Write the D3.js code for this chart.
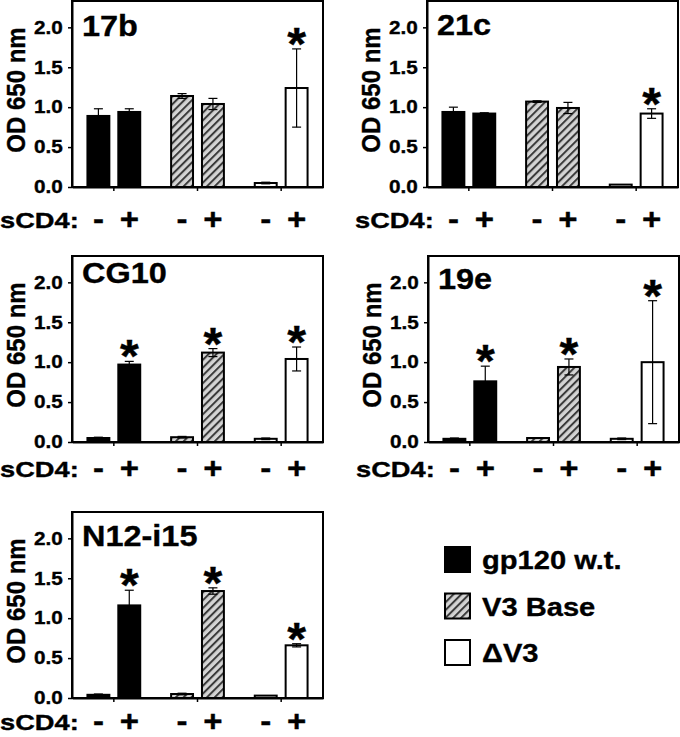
<!DOCTYPE html>
<html><head><meta charset="utf-8">
<script src="https://cdn.jsdelivr.net/npm/d3@7"></script>
<style>
html,body{margin:0;padding:0;background:#fff;}
text{font-family:"Liberation Sans",Arial,sans-serif;font-weight:bold;fill:#000;stroke:#000;stroke-width:0.35px;}
</style></head>
<body><svg id="chart" width="680" height="737"></svg>
<script>
// ---------- data ----------
const constructs = ["gp120 w.t.", "V3 Base", "\u0394V3"];
const sCD4 = ["-", "+"];
const antibodies = ["17b", "21c", "CG10", "19e", "N12-i15"];
// order per antibody: wt-, wt+, base-, base+, dV3-, dV3+
const means17b  = [0.89, 0.94, 1.14, 1.04, 0.05, 1.24];
const errs17b   = [0.09, 0.04, 0.03, 0.07, 0.01, 0.49];
const stars17b  = [0, 0, 0, 0, 0, 1];
const means21c  = [0.94, 0.92, 1.07, 0.99, 0.03, 0.92];
const errs21c   = [0.06, 0.01, 0.01, 0.07, 0.005, 0.06];
const stars21c  = [0, 0, 0, 0, 0, 1];
const meansCG10 = [0.05, 0.97, 0.06, 1.12, 0.04, 1.04];
const errsCG10  = [0.01, 0.04, 0.01, 0.05, 0.01, 0.15];
const starsCG10 = [0, 1, 0, 1, 0, 1];
const means19e  = [0.04, 0.76, 0.05, 0.94, 0.04, 1.00];
const errs19e   = [0.01, 0.19, 0.005, 0.10, 0.01, 0.77];
const stars19e  = [0, 1, 0, 1, 0, 1];
const meansN12  = [0.04, 1.16, 0.05, 1.34, 0.03, 0.66];
const errsN12   = [0.01, 0.19, 0.01, 0.04, 0.005, 0.02];
const starsN12  = [0, 1, 0, 1, 0, 1];
const yTicks = [0, 0.5, 1.0, 1.5, 2.0];
const yLabel = "OD 650 nm";
const xLabel = "sCD4:";

const allMeans = [means17b, means21c, meansCG10, means19e, meansN12];
const allErrs  = [errs17b, errs21c, errsCG10, errs19e, errsN12];
const allStars = [stars17b, stars21c, starsCG10, stars19e, starsN12];

// ---------- layout ----------
const W = 251, H = 186, yMax = 2.33;
const layout = [
  {x: 72,  y: 1,   titleDy: 35, rowDy: 41},
  {x: 427, y: 1,   titleDy: 34, rowDy: 41},
  {x: 72,  y: 256, titleDy: 27, rowDy: 35},
  {x: 428, y: 256, titleDy: 33, rowDy: 35},
  {x: 72,  y: 512, titleDy: 34, rowDy: 32}
];

const svg = d3.select("#chart");
const defs = svg.append("defs");
const pat = defs.append("pattern").attr("id", "hatch").attr("patternUnits", "userSpaceOnUse")
  .attr("width", 5.5).attr("height", 5.5).attr("patternTransform", "rotate(45)");
pat.append("rect").attr("width", 5.5).attr("height", 5.5).attr("fill", "#d4d4d4");
pat.append("rect").attr("width", 2).attr("height", 5.5).attr("fill", "#3a3a3a");

const fills = ["#000", "url(#hatch)", "#fff"];

function txt(g, x, y, s, size, anchor, sx) {
  return g.append("text")
    .attr("transform", `translate(${x},${y}) scale(${sx || 1},1)`)
    .attr("text-anchor", anchor || "start")
    .style("font-size", size + "px")
    .text(s);
}

const y = d3.scaleLinear().domain([0, yMax]).range([H, 0]);
const xOuter = d3.scaleBand().domain(constructs).range([0, W]).padding(0);
const xInner = d3.scaleBand().domain(sCD4).range([0, xOuter.bandwidth()])
  .paddingInner(0.29).paddingOuter(0.5);

antibodies.forEach((ab, i) => {
  const L = layout[i];
  const g = svg.append("g").attr("transform", `translate(${L.x},${L.y})`);
  const rows = [];
  constructs.forEach((c, ci) => sCD4.forEach((s, si) => {
    const k = ci * 2 + si;
    rows.push({c, s, ci, v: allMeans[i][k], e: allErrs[i][k], star: allStars[i][k]});
  }));

  // bars
  g.selectAll("rect.bar").data(rows).enter().append("rect")
    .attr("class", "bar")
    .attr("x", d => xOuter(d.c) + xInner(d.s))
    .attr("width", xInner.bandwidth())
    .attr("y", d => y(d.v))
    .attr("height", d => H - y(d.v))
    .attr("fill", d => fills[d.ci])
    .attr("stroke", "#000").attr("stroke-width", 2);

  // error bars
  const cx = d => xOuter(d.c) + xInner(d.s) + xInner.bandwidth() / 2;
  const eb = g.selectAll("g.err").data(rows.filter(d => d.e > 0.008)).enter().append("g")
    .attr("stroke", "#000").attr("stroke-width", 1.2);
  eb.append("line").attr("x1", cx).attr("x2", cx)
    .attr("y1", d => y(d.v + d.e)).attr("y2", d => y(Math.max(0, d.v - d.e)));
  eb.append("line").attr("x1", d => cx(d) - 4.5).attr("x2", d => cx(d) + 4.5)
    .attr("y1", d => y(d.v + d.e)).attr("y2", d => y(d.v + d.e));
  eb.append("line").attr("x1", d => cx(d) - 4.5).attr("x2", d => cx(d) + 4.5)
    .attr("y1", d => y(Math.max(0, d.v - d.e))).attr("y2", d => y(Math.max(0, d.v - d.e)));

  // stars
  rows.filter(d => d.star).forEach(d => {
    txt(g, cx(d), y(d.v + d.e) + 11, "*", 46, "middle", 1.05);
  });

  // frame
  g.append("rect").attr("x", 0).attr("y", 0).attr("width", W).attr("height", H)
    .attr("fill", "none").attr("stroke", "#000").attr("stroke-width", 2);

  // y axis
  const ya = g.append("g").call(d3.axisLeft(y).tickValues(yTicks).tickFormat(d3.format(".1f"))
    .tickSize(4).tickPadding(5).tickSizeOuter(0));
  ya.select(".domain").attr("stroke-width", 2);
  ya.selectAll(".tick line").attr("stroke-width", 1.5);
  ya.selectAll(".tick text").style("font-size", "18px").style("font-family", "'Liberation Sans',Arial,sans-serif")
    .style("font-weight", "bold").attr("fill", "#000").attr("transform", "scale(1.15,1)").attr("x", -8);

  // x axis ticks at group centers
  const xa = g.append("g").attr("transform", `translate(0,${H})`)
    .call(d3.axisBottom(xOuter).tickSize(4).tickSizeOuter(0).tickFormat(""));
  xa.select(".domain").attr("stroke-width", 2);
  xa.selectAll(".tick line").attr("stroke-width", 1.5);

  // title
  txt(g, 10, L.titleDy, ab, 29, "start", 1.12);

  // y label
  g.append("text").attr("transform", `translate(${-47},${H / 2 - 4}) scale(1.08,1) rotate(-90)`)
    .attr("text-anchor", "middle").style("font-size", "24px").text(yLabel);

  // sCD4 row
  txt(g, -72, H + L.rowDy, xLabel, 22, "start", 1.24);
  rows.forEach(d => {
    txt(g, cx(d), H + L.rowDy + 1, d.s, 30, "middle", 1.1);
  });
});

// legend
const lg = svg.append("g").attr("transform", "translate(445,547)");
constructs.forEach((c, ci) => {
  const gy = ci * 46.5;
  lg.append("rect").attr("x", 0).attr("y", gy).attr("width", 25).attr("height", 25)
    .attr("fill", fills[ci]).attr("stroke", "#000").attr("stroke-width", 2);
  txt(lg, 37, gy + 22, c, 26, "start", 1.12);
});
</script></body></html>
